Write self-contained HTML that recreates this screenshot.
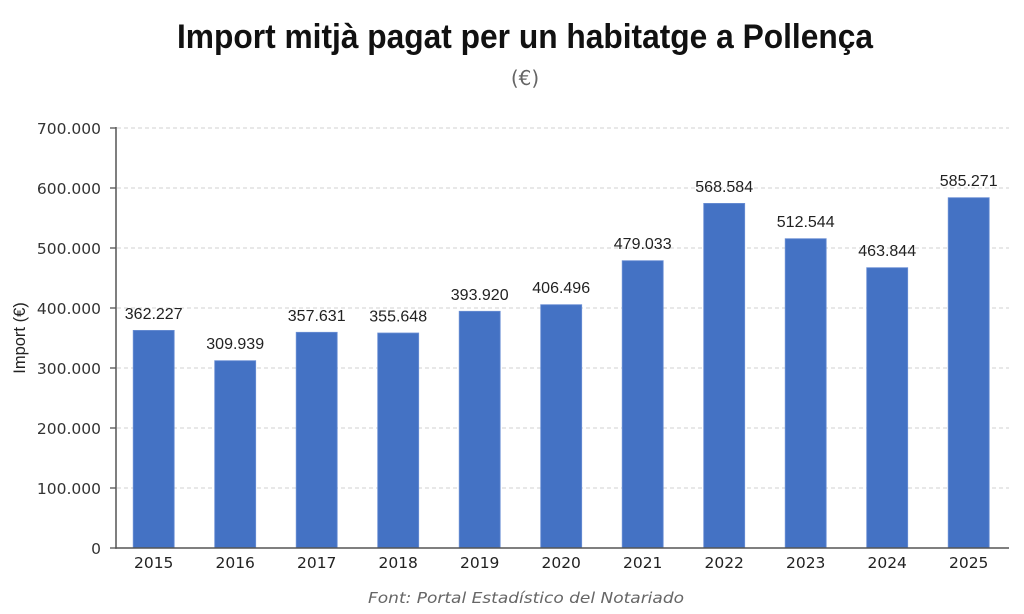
<!DOCTYPE html>
<html><head><meta charset="utf-8"><style>
html,body{margin:0;padding:0;background:#fff;}
svg{display:block;}
</style></head><body>
<svg width="1024" height="614" viewBox="0 0 1024 614" xmlns="http://www.w3.org/2000/svg">
<rect width="1024" height="614" fill="#fff"/>
<text x="525" y="48" text-anchor="middle" font-family="Liberation Sans, sans-serif" font-weight="bold" font-size="34" fill="#111" textLength="696" lengthAdjust="spacingAndGlyphs">Import mitjà pagat per un habitatge a Pollença</text>
<text x="525" y="85" text-anchor="middle" font-family="DejaVu Sans, sans-serif" font-size="20" fill="#666">(€)</text>
<g stroke="#d0d0d0" stroke-width="1" stroke-dasharray="4,3">
<line x1="117" y1="128" x2="1009" y2="128"/>
<line x1="117" y1="188" x2="1009" y2="188"/>
<line x1="117" y1="248" x2="1009" y2="248"/>
<line x1="117" y1="308" x2="1009" y2="308"/>
<line x1="117" y1="368" x2="1009" y2="368"/>
<line x1="117" y1="428" x2="1009" y2="428"/>
<line x1="117" y1="488" x2="1009" y2="488"/>
</g>
<g font-family="DejaVu Sans, sans-serif" font-size="15.5" fill="#333" text-anchor="end">
<text x="101" y="134">700.000</text>
<text x="101" y="194">600.000</text>
<text x="101" y="254">500.000</text>
<text x="101" y="314">400.000</text>
<text x="101" y="374">300.000</text>
<text x="101" y="434">200.000</text>
<text x="101" y="494">100.000</text>
<text x="101" y="554">0</text>
</g>
<g stroke="#555" stroke-width="1.3">
<line x1="110" y1="128" x2="116" y2="128"/>
<line x1="110" y1="188" x2="116" y2="188"/>
<line x1="110" y1="248" x2="116" y2="248"/>
<line x1="110" y1="308" x2="116" y2="308"/>
<line x1="110" y1="368" x2="116" y2="368"/>
<line x1="110" y1="428" x2="116" y2="428"/>
<line x1="110" y1="488" x2="116" y2="488"/>
<line x1="110" y1="548" x2="116" y2="548"/>
</g>
<g fill="#4472c4" stroke="#6b8fd4" stroke-width="0.8">
<rect x="133.2" y="330.4" width="41" height="217.6"/>
<rect x="214.7" y="360.7" width="41" height="187.3"/>
<rect x="296.2" y="332.3" width="41" height="215.7"/>
<rect x="377.7" y="333" width="41" height="215"/>
<rect x="459.2" y="311.3" width="41" height="236.7"/>
<rect x="540.7" y="304.7" width="41" height="243.3"/>
<rect x="622.2" y="260.7" width="41" height="287.3"/>
<rect x="703.7" y="203.4" width="41" height="344.6"/>
<rect x="785.2" y="238.7" width="41" height="309.3"/>
<rect x="866.7" y="267.7" width="41" height="280.3"/>
<rect x="948.2" y="197.7" width="41" height="350.3"/>
</g>
<line x1="116" y1="127" x2="116" y2="548.7" stroke="#555" stroke-width="1.5"/>
<line x1="115.3" y1="548" x2="1009" y2="548" stroke="#555" stroke-width="1.5"/>
<g font-family="Liberation Sans, sans-serif" font-size="16" fill="#222" text-anchor="middle">
<text x="153.7" y="319">362.227</text>
<text x="235.2" y="349">309.939</text>
<text x="316.7" y="321">357.631</text>
<text x="398.2" y="321.5">355.648</text>
<text x="479.7" y="300">393.920</text>
<text x="561.2" y="293">406.496</text>
<text x="642.7" y="249">479.033</text>
<text x="724.2" y="192">568.584</text>
<text x="805.7" y="227">512.544</text>
<text x="887.2" y="256">463.844</text>
<text x="968.7" y="186">585.271</text>
</g>
<g font-family="DejaVu Sans, sans-serif" font-size="15.5" fill="#222" text-anchor="middle">
<text x="153.7" y="568">2015</text>
<text x="235.2" y="568">2016</text>
<text x="316.7" y="568">2017</text>
<text x="398.2" y="568">2018</text>
<text x="479.7" y="568">2019</text>
<text x="561.2" y="568">2020</text>
<text x="642.7" y="568">2021</text>
<text x="724.2" y="568">2022</text>
<text x="805.7" y="568">2023</text>
<text x="887.2" y="568">2024</text>
<text x="968.7" y="568">2025</text>
</g>
<text transform="translate(25,338) rotate(-90)" text-anchor="middle" font-family="Liberation Sans, sans-serif" font-size="16.5" fill="#222">Import (€)</text>
<text x="526" y="603" text-anchor="middle" font-family="DejaVu Sans, sans-serif" font-style="italic" font-size="15" fill="#666" textLength="316" lengthAdjust="spacingAndGlyphs">Font: Portal Estadístico del Notariado</text>
</svg>
</body></html>
